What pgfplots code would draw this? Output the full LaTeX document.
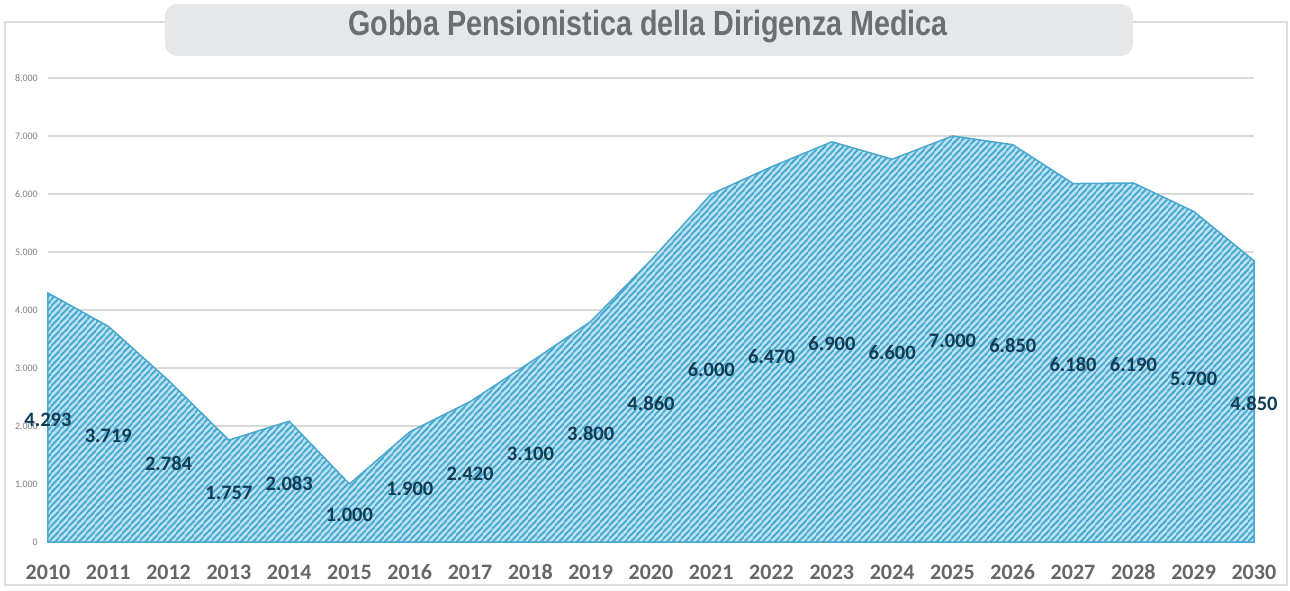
\documentclass[border=0pt]{standalone}
\usepackage{fontspec}
\setmainfont{Carlito}
\newfontfamily\titlefont[FakeStretch=0.82]{Liberation Sans}
\usepackage{pgfplots}
\pgfplotsset{compat=1.18}
\usepackage{pgfplotstable}
\usetikzlibrary{patterns.meta}

\definecolor{gridgray}{HTML}{D9D9D9}
\definecolor{framegray}{HTML}{DCDCDC}
\definecolor{titlebox}{HTML}{E6E7E8}
\definecolor{titletext}{HTML}{6D6E71}
\definecolor{areabg}{HTML}{BCE1F0}
\definecolor{stripe}{HTML}{43A8D0}
\definecolor{edge}{HTML}{4AA8CF}
\definecolor{lbl}{HTML}{123C55}
\definecolor{ticktext}{HTML}{666666}

% pensionamenti per anno
\pgfplotstableread{
year v
2010 4293
2011 3719
2012 2784
2013 1757
2014 2083
2015 1000
2016 1900
2017 2420
2018 3100
2019 3800
2020 4860
2021 6000
2022 6470
2023 6900
2024 6600
2025 7000
2026 6850
2027 6180
2028 6190
2029 5700
2030 4850
}\gobba

\begin{document}
\begin{tikzpicture}
% cornice e titolo
\draw[framegray, line width=1.5pt] (-43pt,-43pt) rectangle (1239pt,520pt);
\fill[titlebox, rounded corners=12pt] (117pt,486pt) rectangle (1085pt,538pt);
\node[text=titletext, anchor=base, font=\titlefont\bfseries\fontsize{35}{40}\selectfont]
    at (600pt,506pt) {Gobba Pensionistica della Dirigenza Medica};

\begin{axis}[
    at={(0pt,0pt)}, anchor=south west,
    scale only axis,
    width=1206pt, height=464pt,
    xmin=2010, xmax=2030,
    ymin=0, ymax=8000,
    xtick={2010,...,2030},
    ytick={0,1000,...,8000},
    axis line style={draw=none},
    tick style={draw=none},
    ymajorgrids,
    grid style={gridgray, line width=1.5pt},
    clip=false,
    /pgf/number format/assume math mode=true,
    xticklabel style={font=\bfseries\fontsize{22}{24}\selectfont, text=ticktext,
        anchor=base, yshift=-37.5pt, /pgf/number format/1000 sep={}},
    yticklabel style={font=\fontsize{10}{12}\selectfont, text=gray,
        anchor=east, inner sep=0pt, xshift=-10pt, /pgf/number format/1000 sep={.}},
]
\addplot[fill=areabg, draw=none] table[x=year, y=v] {\gobba} \closedcycle;
\addplot[pattern={Lines[angle=48, distance=4pt, line width=2pt]}, pattern color=stripe,
    draw=edge, line width=1.5pt] table[x=year, y=v] {\gobba} \closedcycle;

% etichette dei valori (centrate a meta dell'area)
\addplot[draw=none, mark=none, point meta=explicit,
    nodes near coords={\pgfmathprintnumber[fixed, precision=0, 1000 sep={.}]{\pgfplotspointmeta}},
    every node near coord/.append style={anchor=center, yshift=-2pt,
        font=\bfseries\fontsize{20.5}{22}\selectfont, text=lbl}]
    table[x=year, y expr=\thisrow{v}/2, meta=v] {\gobba};
\end{axis}
\pgfresetboundingbox
\path[use as bounding box] (-48pt,-48pt) rectangle (1242pt,542pt);
\end{tikzpicture}
\end{document}
